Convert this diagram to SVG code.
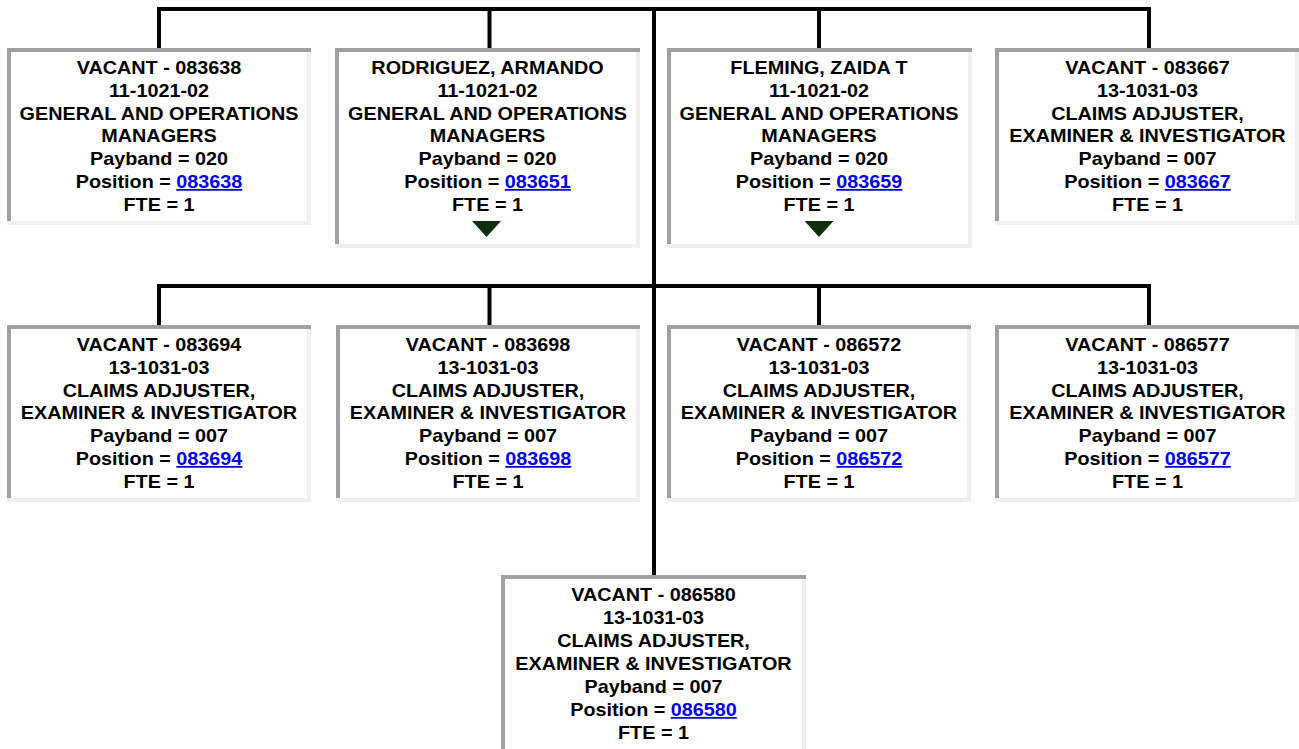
<svg xmlns="http://www.w3.org/2000/svg" width="1299" height="749" viewBox="0 0 1299 749">
<style>
.bg{fill:#ffffff}
.dk{fill:#a0a0a0}
.lt{fill:#efefef}
.t{font-family:"Liberation Sans",Arial,Helvetica,sans-serif;font-weight:bold;font-size:18px;text-anchor:middle;fill:#000000}
.lk{fill:#0000ee;text-decoration:underline}
.tri{fill:#0f300f}
.cn{stroke:#000000;stroke-width:4;fill:none}
</style>
<defs>
<g id="box177">
<rect class="bg" x="0" y="0" width="304" height="177"/>
<rect class="dk" x="0" y="0" width="304" height="4"/>
<rect class="dk" x="0" y="0" width="4" height="173"/>
<rect class="lt" x="0" y="173" width="304" height="4"/>
<rect class="lt" x="300" y="4" width="4" height="169"/>
</g>
<g id="box200">
<rect class="bg" x="0" y="0" width="305" height="200"/>
<rect class="dk" x="0" y="0" width="305" height="4"/>
<rect class="dk" x="0" y="0" width="4" height="196"/>
<rect class="lt" x="0" y="196" width="305" height="4"/>
<rect class="lt" x="301" y="4" width="4" height="192"/>
</g>
</defs>
<g id="connectors">
<path class="cn" d="M157 9 H1151"/>
<path class="cn" d="M159 7 V48 M489.5 7 V48 M819 7 V48 M1149 7 V48"/>
<path class="cn" d="M654 7 V575"/>
<path class="cn" d="M157 286 H1151"/>
<path class="cn" d="M159 284 V325 M489.5 284 V325 M819 284 V325 M1149 284 V325"/>
</g>
<g id="n083638">
<use href="#box177" x="7" y="48"/>
<g transform="translate(159 0) scale(1.1 1)">
<text class="t" x="0" y="74">VACANT - 083638</text>
<text class="t" x="0" y="96.8">11-1021-02</text>
<text class="t" x="0" y="119.6">GENERAL AND OPERATIONS</text>
<text class="t" x="0" y="142.4">MANAGERS</text>
<text class="t" x="0" y="165.2">Payband = 020</text>
<text class="t" x="0" y="188">Position = <tspan class="lk">083638</tspan></text>
<text class="t" x="0" y="210.8">FTE = 1</text>
</g>
</g>
<g id="n083651">
<use href="#box200" x="335" y="48"/>
<g transform="translate(487.5 0) scale(1.1 1)">
<text class="t" x="0" y="74">RODRIGUEZ, ARMANDO</text>
<text class="t" x="0" y="96.8">11-1021-02</text>
<text class="t" x="0" y="119.6">GENERAL AND OPERATIONS</text>
<text class="t" x="0" y="142.4">MANAGERS</text>
<text class="t" x="0" y="165.2">Payband = 020</text>
<text class="t" x="0" y="188">Position = <tspan class="lk">083651</tspan></text>
<text class="t" x="0" y="210.8">FTE = 1</text>
</g>
<polygon class="tri" points="472,221 501,221 486.5,237"/>
</g>
<g id="n083659">
<use href="#box200" x="667" y="48"/>
<g transform="translate(819 0) scale(1.1 1)">
<text class="t" x="0" y="74">FLEMING, ZAIDA T</text>
<text class="t" x="0" y="96.8">11-1021-02</text>
<text class="t" x="0" y="119.6">GENERAL AND OPERATIONS</text>
<text class="t" x="0" y="142.4">MANAGERS</text>
<text class="t" x="0" y="165.2">Payband = 020</text>
<text class="t" x="0" y="188">Position = <tspan class="lk">083659</tspan></text>
<text class="t" x="0" y="210.8">FTE = 1</text>
</g>
<polygon class="tri" points="804.5,221 833.5,221 819,237"/>
</g>
<g id="n083667">
<use href="#box177" x="995" y="48"/>
<g transform="translate(1147.5 0) scale(1.1 1)">
<text class="t" x="0" y="74">VACANT - 083667</text>
<text class="t" x="0" y="96.8">13-1031-03</text>
<text class="t" x="0" y="119.6">CLAIMS ADJUSTER,</text>
<text class="t" x="0" y="142.4">EXAMINER &amp; INVESTIGATOR</text>
<text class="t" x="0" y="165.2">Payband = 007</text>
<text class="t" x="0" y="188">Position = <tspan class="lk">083667</tspan></text>
<text class="t" x="0" y="210.8">FTE = 1</text>
</g>
</g>
<g id="n083694">
<use href="#box177" x="7" y="325"/>
<g transform="translate(159 0) scale(1.1 1)">
<text class="t" x="0" y="351">VACANT - 083694</text>
<text class="t" x="0" y="373.8">13-1031-03</text>
<text class="t" x="0" y="396.6">CLAIMS ADJUSTER,</text>
<text class="t" x="0" y="419.4">EXAMINER &amp; INVESTIGATOR</text>
<text class="t" x="0" y="442.2">Payband = 007</text>
<text class="t" x="0" y="465">Position = <tspan class="lk">083694</tspan></text>
<text class="t" x="0" y="487.8">FTE = 1</text>
</g>
</g>
<g id="n083698">
<use href="#box177" x="336" y="325"/>
<g transform="translate(488 0) scale(1.1 1)">
<text class="t" x="0" y="351">VACANT - 083698</text>
<text class="t" x="0" y="373.8">13-1031-03</text>
<text class="t" x="0" y="396.6">CLAIMS ADJUSTER,</text>
<text class="t" x="0" y="419.4">EXAMINER &amp; INVESTIGATOR</text>
<text class="t" x="0" y="442.2">Payband = 007</text>
<text class="t" x="0" y="465">Position = <tspan class="lk">083698</tspan></text>
<text class="t" x="0" y="487.8">FTE = 1</text>
</g>
</g>
<g id="n086572">
<use href="#box177" x="667" y="325"/>
<g transform="translate(819 0) scale(1.1 1)">
<text class="t" x="0" y="351">VACANT - 086572</text>
<text class="t" x="0" y="373.8">13-1031-03</text>
<text class="t" x="0" y="396.6">CLAIMS ADJUSTER,</text>
<text class="t" x="0" y="419.4">EXAMINER &amp; INVESTIGATOR</text>
<text class="t" x="0" y="442.2">Payband = 007</text>
<text class="t" x="0" y="465">Position = <tspan class="lk">086572</tspan></text>
<text class="t" x="0" y="487.8">FTE = 1</text>
</g>
</g>
<g id="n086577">
<use href="#box177" x="995" y="325"/>
<g transform="translate(1147.5 0) scale(1.1 1)">
<text class="t" x="0" y="351">VACANT - 086577</text>
<text class="t" x="0" y="373.8">13-1031-03</text>
<text class="t" x="0" y="396.6">CLAIMS ADJUSTER,</text>
<text class="t" x="0" y="419.4">EXAMINER &amp; INVESTIGATOR</text>
<text class="t" x="0" y="442.2">Payband = 007</text>
<text class="t" x="0" y="465">Position = <tspan class="lk">086577</tspan></text>
<text class="t" x="0" y="487.8">FTE = 1</text>
</g>
</g>
<g id="n086580">
<use href="#box200" x="501" y="575"/>
<g transform="translate(653.5 0) scale(1.1 1)">
<text class="t" x="0" y="601.5">VACANT - 086580</text>
<text class="t" x="0" y="624.4">13-1031-03</text>
<text class="t" x="0" y="647.3">CLAIMS ADJUSTER,</text>
<text class="t" x="0" y="670.2">EXAMINER &amp; INVESTIGATOR</text>
<text class="t" x="0" y="693.1">Payband = 007</text>
<text class="t" x="0" y="716">Position = <tspan class="lk">086580</tspan></text>
<text class="t" x="0" y="738.9">FTE = 1</text>
</g>
</g>
</svg>
